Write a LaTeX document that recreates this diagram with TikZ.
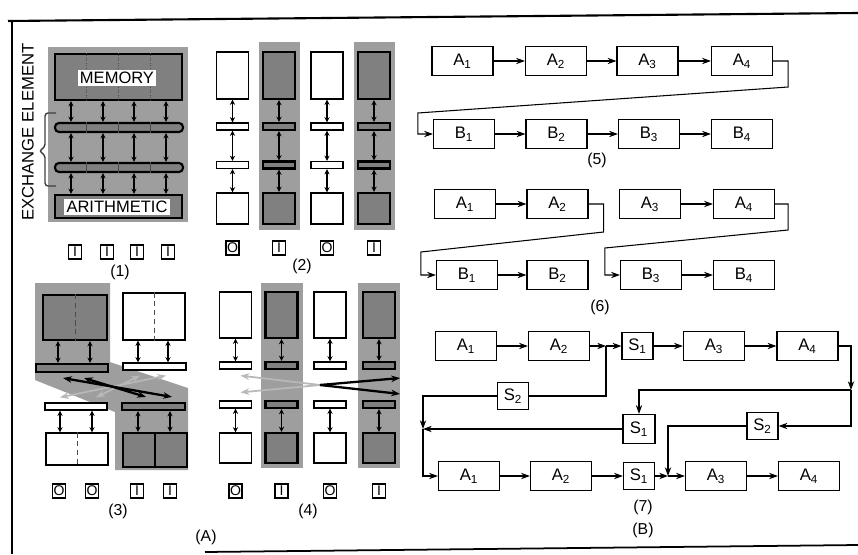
\documentclass[tikz,border=0pt]{standalone}
\usepackage{fontspec}
\setmainfont{Liberation Sans}
\usetikzlibrary{arrows.meta, calc}
\definecolor{cBg}{gray}{0.62}
\definecolor{cBox}{gray}{0.50}
\tikzset{
	sz/.style 2 args={minimum width=#1*0.02cm, minimum height=#2*0.02cm},
	% panel (A) styles
	wbox/.style ={rectangle, draw=black, fill=white, line width=0.7pt, inner sep=0pt},
	gbox/.style ={rectangle, draw=black, fill=cBox, line width=1.2pt, inner sep=0pt},
	wlbl/.style ={fill=white, inner sep=1.2pt, font=\fontsize{9.4}{10}\selectfont},
	bitbox/.style={rectangle, draw=black, line width=0.8pt, minimum width=0.26cm, minimum height=0.28cm, inner sep=0pt, font=\fontsize{8}{8}\selectfont},
	dbl/.style  ={{Stealth[length=3pt,width=3pt]}-{Stealth[length=3pt,width=3pt]}, line width=0.8pt},
	xlight/.style={draw=black!28, line width=1pt},
	xdark/.style ={draw=black, line width=1.3pt},
	% panel (B) styles
	blk/.style  ={rectangle, draw=black, line width=0.7pt, sz={61}{29}, font=\fontsize{9.5}{10}\selectfont},
	sblk/.style ={rectangle, draw=black, line width=0.7pt, sz={31}{27}, font=\fontsize{9.5}{10}\selectfont},
	sig/.style  ={-{Stealth[length=5pt,width=3.6pt]}, line width=0.6pt},
	ln/.style   ={line width=0.6pt},
	plbl/.style ={font=\fontsize{9}{10}\selectfont},
}
\begin{document}
\begin{tikzpicture}[x=0.02cm, y=-0.02cm]
	\useasboundingbox (0,0) rectangle (858,554);
	% frame
	\draw[line width=1.2pt] (8,21) -- (858,13);
	\draw[line width=1.4pt] (12,21) -- (12,554);
	\draw[line width=1pt] (205,552) -- (858,545);

	% ---- (1) ----
	\fill[cBg] (48,47) rectangle (188,222);
	\node[gbox, sz={127}{46}] (mem) at (118.5,77) {};
	\node[gbox, rounded corners=0.08cm, sz={128}{9}] (bara) at (119,127.5) {};
	\node[gbox, rounded corners=0.08cm, sz={128}{9}] (barb) at (119,167.5) {};
	\node[gbox, sz={127}{23}] (ari) at (118.5,206.5) {};
	\foreach \x in {86.75,118.5,150.25} {
		\draw[black!70, densely dotted] (mem.north -| \x,0) -- (mem.south -| \x,0);
		\draw[black!70, thin] (bara.north -| \x,0) -- (bara.south -| \x,0);
		\draw[black!70, thin] (barb.north -| \x,0) -- (barb.south -| \x,0);
	}
	\node[wlbl] (memlbl) at (117,78) {MEMORY};
	\node[wlbl] (arilbl) at (117,207) {ARITHMETIC};
	\foreach \x in {71,103,134,166} {
		\draw[dbl] (mem.south -| \x,0) -- (bara.north -| \x,0);
		\draw[dbl] (bara.south -| \x,0) -- (barb.north -| \x,0);
		\draw[dbl] (barb.south -| \x,0) -- (ari.north -| \x,0);
	}
	\draw[black!75, line width=0.8pt, rounded corners=0.06cm] (56,113) -- (45,113) -- (45,147) -- (39,151) -- (45,155) -- (45,186) -- (56,186);
	\node[rotate=90, font=\fontsize{9.5}{10}\selectfont] (exlbl) at (28,132) {EXCHANGE ELEMENT};
	\foreach \x [count=\i] in {75,107,137,168}
		\node[bitbox] (bA\i) at (\x,252) {I};
	\node[plbl] (cap1) at (120,272) {(1)};

	% ---- (2) ----
	\foreach \x/\st/\bg/\b [count=\i] in {232.5/wbox/white/O, 279/gbox/cBg/I, 327/wbox/white/O, 374/gbox/cBg/I} {
		\fill[\bg] (\x-20,42) rectangle (\x+21,230);
		\node[\st, sz={32}{47}] (tp\i) at (\x,75.5) {};
		\node[\st, sz={32}{7}] (ba\i) at (\x,126.5) {};
		\node[\st, sz={32}{7}] (bb\i) at (\x,165) {};
		\node[\st, sz={32}{31}] (bt\i) at (\x,208.5) {};
		\draw[dbl] (tp\i) -- (ba\i);
		\draw[dbl] (ba\i) -- (bb\i);
		\draw[dbl] (bb\i) -- (bt\i);
		\node[bitbox] (bB\i) at (\x,248) {\b};
	}
	\node[plbl] (cap2) at (302,266) {(2)};

	% ---- (3) ----
	\fill[cBg] (35,283) -- (110,283) -- (110,362) -- (188,388) -- (188,470) -- (115,470) -- (115,412) -- (35,380) -- cycle;
	\node[gbox, sz={64}{45}] (tl) at (75,317.5) {};
	\node[wbox, sz={62}{47}] (tr) at (154,316.5) {};
	\node[gbox, sz={72}{8}] (tlb) at (72,368) {};
	\node[wbox, sz={63}{7}] (trb) at (154.5,366.5) {};
	\node[wbox, sz={62}{7}] (blb) at (76,406.5) {};
	\node[gbox, sz={63}{7}] (brb) at (153.5,406.5) {};
	\node[wbox, sz={62}{32}] (bl) at (77,449) {};
	\node[gbox, sz={64}{34}] (br) at (155,450) {};
	\draw[densely dashed, black!70] (tl.north) -- (tl.south);
	\draw[densely dashed, black!70] (tr.north) -- (tr.south);
	\draw[densely dashed, black!70] (bl.north) -- (bl.south);
	\draw[line width=1pt] (br.north) -- (br.south);
	\foreach \x in {58,90} \draw[dbl, line width=1.2pt] (tl.south -| \x,0) -- (tlb.north -| \x,0);
	\foreach \x in {138,168} \draw[dbl] (tr.south -| \x,0) -- (trb.north -| \x,0);
	\foreach \x in {60,92} \draw[dbl] (blb.south -| \x,0) -- (bl.north -| \x,0);
	\foreach \x in {138,170} \draw[dbl, line width=1.2pt] (brb.south -| \x,0) -- (br.north -| \x,0);
	\draw[xlight, {Stealth[length=5pt]}-{Stealth[length=5pt]}] ($(trb.south -| 166,0)+(0,5)$) -- ($(blb.north -| 60,0)+(0,-5)$);
	\draw[xlight, {Stealth[length=5pt]}-{Stealth[length=5pt]}] ($(trb.south -| 140,0)+(0,5)$) -- ($(blb.north -| 96,0)+(0,-5)$);
	\draw[xdark, {Stealth[length=5pt]}-{Stealth[length=5pt]}] ($(tlb.south -| 63,0)+(0,5)$) -- ($(brb.north -| 172,0)+(0,-5)$);
	\draw[xdark, {Stealth[length=5pt]}-{Stealth[length=5pt]}] ($(tlb.south -| 84,0)+(0,5)$) -- ($(brb.north -| 146,0)+(0,-5)$);
	\foreach \x/\b [count=\i] in {59/O, 92/O, 137/I, 170/I}
		\node[bitbox] (bC\i) at (\x,491) {\b};
	\node[plbl] (cap3) at (118,511) {(3)};

	% ---- (4) ----
	\foreach \x/\st/\bg/\b [count=\i] in {235.5/wbox/white/O, 281.5/gbox/cBg/I, 330/wbox/white/O, 379/gbox/cBg/I} {
		\fill[\bg] (\x-21,283) rectangle (\x+21,468);
		\node[\st, sz={32}{46}] (tq\i) at (\x,315) {};
		\node[\st, sz={32}{7}] (qa\i) at (\x,365.5) {};
		\node[\st, sz={32}{7}] (qb\i) at (\x,404.5) {};
		\node[\st, sz={32}{30}] (qt\i) at (\x,448) {};
		\draw[dbl] (tq\i) -- (qa\i);
		\draw[dbl] (qb\i) -- (qt\i);
		\node[bitbox] (bD\i) at (\x,491) {\b};
	}
	\coordinate (xc) at (320,385);
	\draw[xlight, {Stealth[length=5pt]}-] ($(qa1.south)+(5,6)$) -- (xc);
	\draw[xlight, {Stealth[length=5pt]}-] ($(qb1.north)+(5,-8)$) -- (xc);
	\draw[xdark, -{Stealth[length=5pt]}] (xc) -- ($(qa4.south)+(21,8)$);
	\draw[xdark, -{Stealth[length=5pt]}] (xc) -- ($(qb4.north)+(21,-6)$);
	\node[plbl] (cap4) at (308,511) {(4)};
	\node[plbl] (capA) at (206,537) {(A)};

	% ---- (5) ----
	\foreach \n/\x in {1/462.5, 2/556, 3/647.5, 4/742}
		\node[blk] (fa\n) at (\x,61) {A\textsubscript{\n}};
	\foreach \n/\x in {1/464, 2/556.5, 3/649, 4/742}
		\node[blk] (fb\n) at (\x,134) {B\textsubscript{\n}};
	\foreach \a/\b in {1/2, 2/3, 3/4} {
		\draw[sig] (fa\a) -- (fa\b);
		\draw[sig] (fb\a) -- (fb\b);
	}
	\draw[sig] (fa4.east) -- ++(15,0) -- ++(0,26) -- ($(fb1.west)+(-15,-21)$) |- (fb1.west);
	\node[plbl] (cap5) at (597,160) {(5)};

	% ---- (6) ----
	\foreach \n/\x in {1/465, 2/557.5, 3/650, 4/744}
		\node[blk] (ga\n) at (\x,204) {A\textsubscript{\n}};
	\foreach \n/\x in {1/467, 2/557.5, 3/651, 4/744}
		\node[blk] (gb\n) at (\x,275) {B\textsubscript{\n}};
	\draw[sig] (ga1) -- (ga2);
	\draw[sig] (ga3) -- (ga4);
	\draw[sig] (gb1) -- (gb2);
	\draw[sig] (gb3) -- (gb4);
	\draw[sig] (ga2.east) -- ++(15,0) -- ++(0,28) -- ($(gb1.west)+(-15,-23)$) |- (gb1.west);
	\draw[sig] (ga4.east) -- ++(13,0) -- ++(0,26) -- ($(gb3.west)+(-15,-27)$) |- (gb3.west);
	\node[plbl] (cap6) at (600,307) {(6)};

	% ---- (7) ----
	\node[blk] (ha1) at (466,346) {A\textsubscript{1}};
	\node[blk] (ha2) at (559,346) {A\textsubscript{2}};
	\node[sblk] (hs1) at (637.5,346) {S\textsubscript{1}};
	\node[blk] (ha3) at (714,346) {A\textsubscript{3}};
	\node[blk] (ha4) at (807.5,346) {A\textsubscript{4}};
	\node[sblk] (ms2) at (513,396) {S\textsubscript{2}};
	\node[sblk, sz={32}{29}] (ms1) at (639,429) {S\textsubscript{1}};
	\node[sblk] (mt2) at (762.5,426) {S\textsubscript{2}};
	\node[blk] (ka1) at (469,476) {A\textsubscript{1}};
	\node[blk] (ka2) at (561,476) {A\textsubscript{2}};
	\node[sblk] (ks1) at (639,476) {S\textsubscript{1}};
	\node[blk] (ka3) at (716,476) {A\textsubscript{3}};
	\node[blk] (ka4) at (809,476) {A\textsubscript{4}};
	\coordinate (j1) at (606,346);
	\coordinate (j2) at (851,390);
	\coordinate (j3) at (668,476);
	\coordinate (j4) at (423,429);
	\draw[sig] (ha1) -- (ha2);
	\draw[sig] (ha2) -- (j1);
	\draw[sig] (j1) -- (hs1);
	\draw[sig] (hs1) -- (ha3);
	\draw[sig] (ha3) -- (ha4);
	\draw[ln] (j1) |- (ms2.east);
	\draw[sig] (ms2.west) -| (j4);
	\draw[sig] (ms1.west) -- (j4);
	\draw[sig] (j4) |- (ka1.west);
	\draw[sig] (ha4.east) -| (j2);
	\draw[sig] (j2) -| (ms1.north);
	\draw[sig] (j2) |- (mt2.east);
	\draw[sig] (mt2.west) -| (j3);
	\draw[sig] (ka1) -- (ka2);
	\draw[sig] (ka2) -- (ks1);
	\draw[sig] (ks1) -- (j3);
	\draw[sig] (j3) -- (ka3);
	\draw[sig] (ka3) -- (ka4);
	\node[plbl] (cap7) at (643,507) {(7)};
	\node[plbl] (capB) at (643,530) {(B)};
\end{tikzpicture}
\end{document}
